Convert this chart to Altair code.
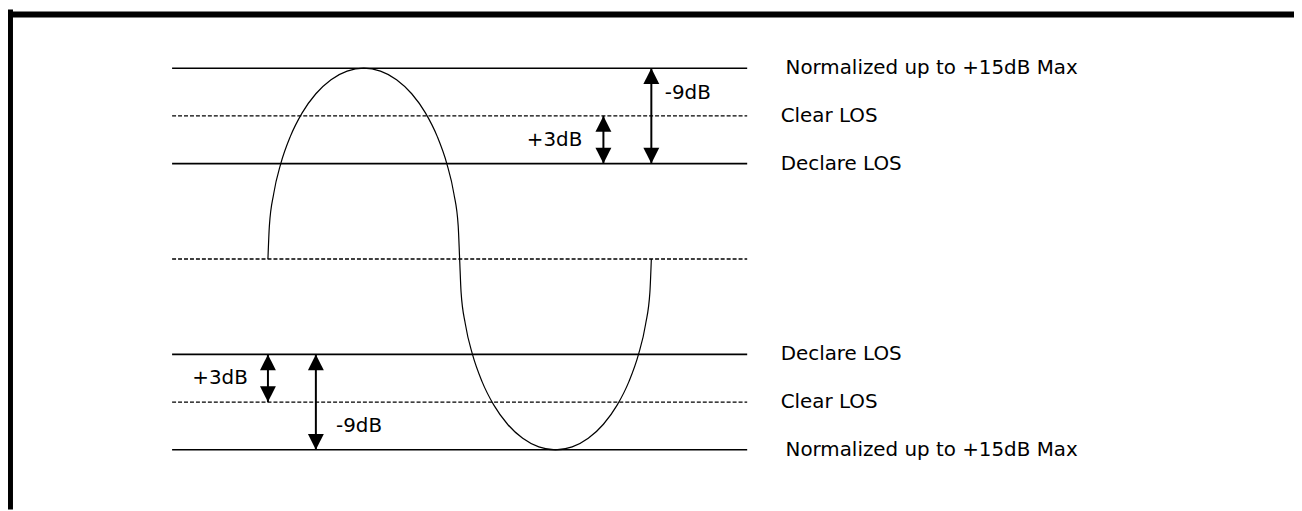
import altair as alt
import pandas as pd

# ---- data ----
level_values = [4, 3, 2, 0, -2, -3, -4]
level_styles = ["solid", "dashed", "solid", "dashed", "solid", "dashed", "solid"]
level_labels = ["Normalized up to +15dB Max", "Clear LOS", "Declare LOS", "",
                "Declare LOS", "Clear LOS", "Normalized up to +15dB Max"]
level_label_x = [5.4, 5.35, 5.35, 5.35, 5.35, 5.35, 5.4]
line_start = -1.0
line_end = 5.0

curve_x = [0.0, 0.015, 0.06, 0.134, 0.234, 0.357, 0.5, 0.658, 0.826, 1.0,
           1.174, 1.342, 1.5, 1.643, 1.766, 1.866, 1.94, 1.985, 2.0,
           2.015, 2.06, 2.134, 2.234, 2.357, 2.5, 2.658, 2.826, 3.0,
           3.174, 3.342, 3.5, 3.643, 3.766, 3.866, 3.94, 3.985, 4.0]
curve_y = [0.0, 0.695, 1.368, 2.0, 2.571, 3.064, 3.464, 3.759, 3.939, 4.0,
           3.939, 3.759, 3.464, 3.064, 2.571, 2.0, 1.368, 0.695, 0.0,
           -0.695, -1.368, -2.0, -2.571, -3.064, -3.464, -3.759, -3.939, -4.0,
           -3.939, -3.759, -3.464, -3.064, -2.571, -2.0, -1.368, -0.695, 0.0]

arrow_x = [4.0, 3.5, 0.0, 0.5]
arrow_from = [4, 3, -2, -2]
arrow_to = [2, 2, -3, -4]
arrow_text = ["-9dB", "+3dB", "+3dB", "-9dB"]
arrow_text_x = [4.14, 3.28, -0.21, 0.71]
arrow_text_y = [3.47, 2.5, -2.5, -3.5]
arrow_text_side = ["left", "right", "right", "left"]

X0, X1 = -2.712, 10.705
Y0, Y1 = -5.25, 5.229
frame_top = 5.125
frame_left = -2.686

FONT = "DejaVu Sans"
FS = 20

# ---- tables ----
levels = pd.DataFrame({
    "y": level_values, "style": level_styles, "label": level_labels,
    "lx": level_label_x, "x": [line_start] * 7, "x2": [line_end] * 7,
})
curve = pd.DataFrame({"x": curve_x, "y": curve_y, "o": list(range(len(curve_x)))})
arrows = pd.DataFrame({"x": arrow_x, "y": arrow_from, "y2": arrow_to,
                       "t": arrow_text, "tx": arrow_text_x, "ty": arrow_text_y,
                       "side": arrow_text_side})
heads = pd.DataFrame({
    "x": arrow_x * 2,
    "y": [max(a, b) for a, b in zip(arrow_from, arrow_to)] + [min(a, b) for a, b in zip(arrow_from, arrow_to)],
    "d": ["up"] * 4 + ["down"] * 4,
})
frame_h = pd.DataFrame({"x": [X0], "x2": [X1], "y": [frame_top]})
frame_v = pd.DataFrame({"x": [frame_left], "y": [Y0], "y2": [Y1]})

xs = alt.Scale(domain=[X0, X1], nice=False, zero=False)
ys = alt.Scale(domain=[Y0, Y1], nice=False, zero=False)

def X(f):
    return alt.X(f, type="quantitative", scale=xs, axis=None)

def Y(f):
    return alt.Y(f, type="quantitative", scale=ys, axis=None)

solid = alt.Chart(levels).transform_filter("datum.style == 'solid'").mark_rule(
    color="black", strokeWidth=1.6).encode(x=X("x"), x2="x2", y=Y("y"))
dashed = alt.Chart(levels).transform_filter("datum.style == 'dashed'").mark_rule(
    color="black", strokeWidth=1.3, strokeDash=[4, 2]).encode(x=X("x"), x2="x2", y=Y("y"))
labels = alt.Chart(levels).mark_text(
    align="left", baseline="middle", font=FONT, fontSize=FS, color="black").encode(
    x=X("lx"), y=Y("y"), text="label:N")

curve_line = alt.Chart(curve).mark_line(
    color="black", strokeWidth=1.2, interpolate="monotone").encode(
    x=X("x"), y=Y("y"), order="o:Q")

shafts = alt.Chart(arrows).mark_rule(color="black", strokeWidth=2).encode(
    x=X("x"), y=Y("y"), y2="y2")
up_heads = alt.Chart(heads).transform_filter("datum.d == 'up'").mark_point(
    shape="M0,0L-1,2L1,2Z", size=256, filled=True, color="black", opacity=1,
    strokeWidth=0).encode(x=X("x"), y=Y("y"))
down_heads = alt.Chart(heads).transform_filter("datum.d == 'down'").mark_point(
    shape="M0,0L-1,-2L1,-2Z", size=256, filled=True, color="black", opacity=1,
    strokeWidth=0).encode(x=X("x"), y=Y("y"))
atext_l = alt.Chart(arrows).transform_filter("datum.side == 'left'").mark_text(
    align="left", baseline="middle", font=FONT, fontSize=FS, color="black").encode(
    x=X("tx"), y=Y("ty"), text="t:N")
atext_r = alt.Chart(arrows).transform_filter("datum.side == 'right'").mark_text(
    align="right", baseline="middle", font=FONT, fontSize=FS, color="black").encode(
    x=X("tx"), y=Y("ty"), text="t:N")

top_bar = alt.Chart(frame_h).mark_rule(color="black", strokeWidth=6).encode(
    x=X("x"), x2="x2", y=Y("y"))
left_bar = alt.Chart(frame_v).mark_rule(color="black", strokeWidth=5).encode(
    x=X("x"), y=Y("y"), y2="y2")

chart = alt.layer(
    solid, dashed, curve_line, shafts, up_heads, down_heads,
    labels, atext_l, atext_r, top_bar, left_bar
).properties(
    width=1294, height=503, padding=0,
    autosize=alt.AutoSizeParams(type="none"), background="white"
).configure_view(stroke=None)

chart.save("out.html", embed_options={"renderer": "svg", "actions": False})
